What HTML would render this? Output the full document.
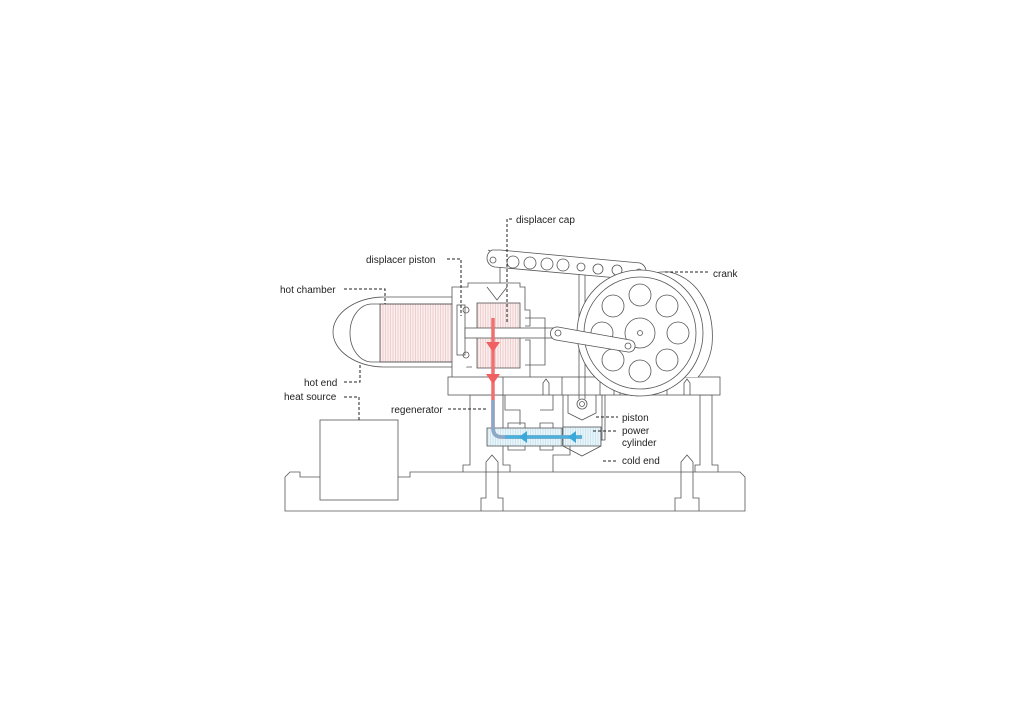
<!DOCTYPE html>
<html><head><style>
html,body{margin:0;padding:0;background:#fff;width:1024px;height:724px;overflow:hidden}
svg text{font-family:"Liberation Sans",sans-serif;font-size:10px;fill:#222}
</style></head><body>
<svg width="1024" height="724" viewBox="0 0 1024 724">
<defs>
<pattern id="hr" width="2.5" height="10" patternUnits="userSpaceOnUse"><rect width="2.5" height="10" fill="#fbeeee"/><line x1="0.5" y1="0" x2="0.5" y2="10" stroke="#e8b8b8" stroke-width="0.6"/></pattern>
<pattern id="hb" width="2.5" height="10" patternUnits="userSpaceOnUse"><rect width="2.5" height="10" fill="#eaf5fa"/><line x1="0.5" y1="0" x2="0.5" y2="10" stroke="#b8dcec" stroke-width="0.6"/></pattern>
</defs>
<g fill="none" stroke="#555" stroke-width="0.8">
<!-- base -->
<path d="M285,511 V477 L290,472 H300 V477 H410 V472 H740 L745,477 V511 Z" fill="#fff"/>
<!-- heat source -->
<rect x="320" y="420" width="78" height="80" fill="#fff"/>
<!-- bolts -->
<path d="M481,511 V498 H486 V462 L492,455 L498,462 V498 H503 V511"/>
<path d="M675,511 V498 H681 V462 L687,455 L693,462 V498 H699 V511"/>
<!-- support columns -->
<path d="M463,472 V465 H470 V395 H503 V465 H510 V472"/>
<path d="M695,472 V465 H700 V395 H712 V465 H718 V472"/>
<path d="M553,472 V455 H570 V440 H605 V395 H600"/>
<!-- platform -->
<rect x="448" y="377" width="272" height="18" fill="#fff"/>
<line x1="503" y1="377" x2="503" y2="395"/><line x1="562" y1="377" x2="562" y2="395"/><line x1="600" y1="377" x2="600" y2="395"/><line x1="667" y1="377" x2="667" y2="395"/>
<path d="M543,395 V383 L546,379 L549,383 V395"/><path d="M614,395 V383 L617,379 L620,383 V395"/><path d="M684,395 V383 L687,379 L690,383 V395"/>
<!-- lower center block -->
<path d="M505,395 V410 H520 V425 M553,395 V410 H540"/>
<rect x="487" y="428" width="75" height="18" fill="url(#hb)"/>
<path d="M508,428 V423 H525 V428 M540,428 V423 H553 V428 M508,446 V450 H525 V446 M540,446 V450 H553 V446"/>
<!-- power cylinder -->
<path d="M563,395 V440 H602 V395"/>
<rect x="563" y="427" width="38" height="19" fill="url(#hb)"/>
<path d="M563,446 L582,456 L601,446"/>
<path d="M568,395 V413 L582,420 L596,413 V395"/>
<circle cx="582" cy="404" r="5"/><circle cx="582" cy="404" r="2.5"/>
<line x1="579" y1="268" x2="579" y2="399"/><line x1="585" y1="268" x2="585" y2="399"/>
<!-- hot chamber -->
<path d="M472,297 H385 A52,35 0 0 0 385,367 H472" fill="#fff"/>
<path d="M380,304 H372 A22,29 0 0 0 372,362 H380"/>
<rect x="380" y="304" width="77" height="58" fill="url(#hr)"/>
<line x1="380" y1="304" x2="472" y2="304"/><line x1="380" y1="362" x2="472" y2="362"/>
<!-- cylinder block -->
<path d="M452,377 V287 H468 V283 H520 V287 H525 V310 H530 V326 H525 M525,340 H530 V377" fill="#fff"/>
<rect x="477" y="303" width="43" height="65" fill="url(#hr)"/>
<path d="M487,287 L497,300 L507,287"/>
<rect x="457" y="305" width="8" height="50" fill="#fff"/>
<circle cx="466" cy="310" r="3"/><circle cx="466" cy="355" r="3"/>
<rect x="465" y="328" width="95" height="10" fill="#fff"/>
<path d="M525,318 H545 V365 H525"/>
<!-- vertical rod post -->
<path d="M500,283 V255 L488,250"/>
<!-- lever arm -->
<path d="M492,250 H500 L640,263 A9,9 0 0 1 640,280 L495,267 A9,9 0 0 1 492,250 Z" fill="#fff"/>
<circle cx="493" cy="260" r="3"/>
<circle cx="513" cy="262" r="6"/><circle cx="530" cy="263" r="6"/><circle cx="547" cy="264" r="6"/><circle cx="563" cy="265" r="6"/><circle cx="581" cy="267" r="4"/><circle cx="598" cy="269" r="5"/><circle cx="617" cy="270" r="5"/><circle cx="639" cy="272" r="3"/>
<!-- crank / flywheel -->
<path d="M600,377 L593,330 C600,290 640,270 670,272 C700,280 715,310 712,345 C710,360 703,372 698,377" fill="#fff"/>
<circle cx="640" cy="333" r="63" fill="#fff"/>
<circle cx="640" cy="333" r="56"/>
<circle cx="640" cy="333" r="15"/><circle cx="640" cy="333" r="2.5"/>
<circle cx="640" cy="295" r="11"/><circle cx="667" cy="306" r="11"/><circle cx="678" cy="333" r="11"/><circle cx="667" cy="360" r="11"/><circle cx="640" cy="371" r="11"/><circle cx="613" cy="360" r="11"/><circle cx="602" cy="333" r="11"/><circle cx="613" cy="306" r="11"/>
<!-- connecting rod -->
<path d="M558,327 L630,340 A6,6 0 0 1 628,352 L556,340 A6,6 0 0 1 558,327 Z" fill="#fff"/>
<circle cx="558" cy="333" r="3"/><circle cx="628" cy="346" r="3"/>
</g>
<!-- flow arrows -->
<path d="M493,318 V428 Q493,437 502,437 H582" fill="none" stroke="#f07070" stroke-width="3.5"/>
<path d="M493,400 V428 Q493,437 502,437 H520" fill="none" stroke="#8aa8c8" stroke-width="3.5"/>
<path d="M505,437 H582" fill="none" stroke="#4ab0dc" stroke-width="3.5"/>
<path d="M486,342 L493,352 L500,342 Z M486,374 L493,384 L500,374 Z" fill="#f06060"/>
<path d="M527,431 L519,437 L527,443 Z M576,431 L568,437 L576,443 Z" fill="#3aa8d8"/>
<!-- leader lines -->
<g fill="none" stroke="#222" stroke-width="1" stroke-dasharray="3,2">
<path d="M512,219 H507 V322"/>
<path d="M447,259 H461 V316"/>
<path d="M344,289 H385 V304"/>
<path d="M665,272 H710"/>
<path d="M344,382 H360 V365"/>
<path d="M344,397 H359 V420"/>
<path d="M448,409 H488"/>
<path d="M596,417 H618"/><path d="M593,431 H618"/><path d="M603,461 H618"/>
</g>
<text x="516" y="223">displacer cap</text>
<text x="366" y="263">displacer piston</text>
<text x="280" y="293">hot chamber</text>
<text x="713" y="277">crank</text>
<text x="304" y="386">hot end</text>
<text x="284" y="400">heat source</text>
<text x="391" y="413">regenerator</text>
<text x="622" y="421">piston</text>
<text x="622" y="434">power</text>
<text x="622" y="446">cylinder</text>
<text x="622" y="464">cold end</text>
</svg>
</body></html>
